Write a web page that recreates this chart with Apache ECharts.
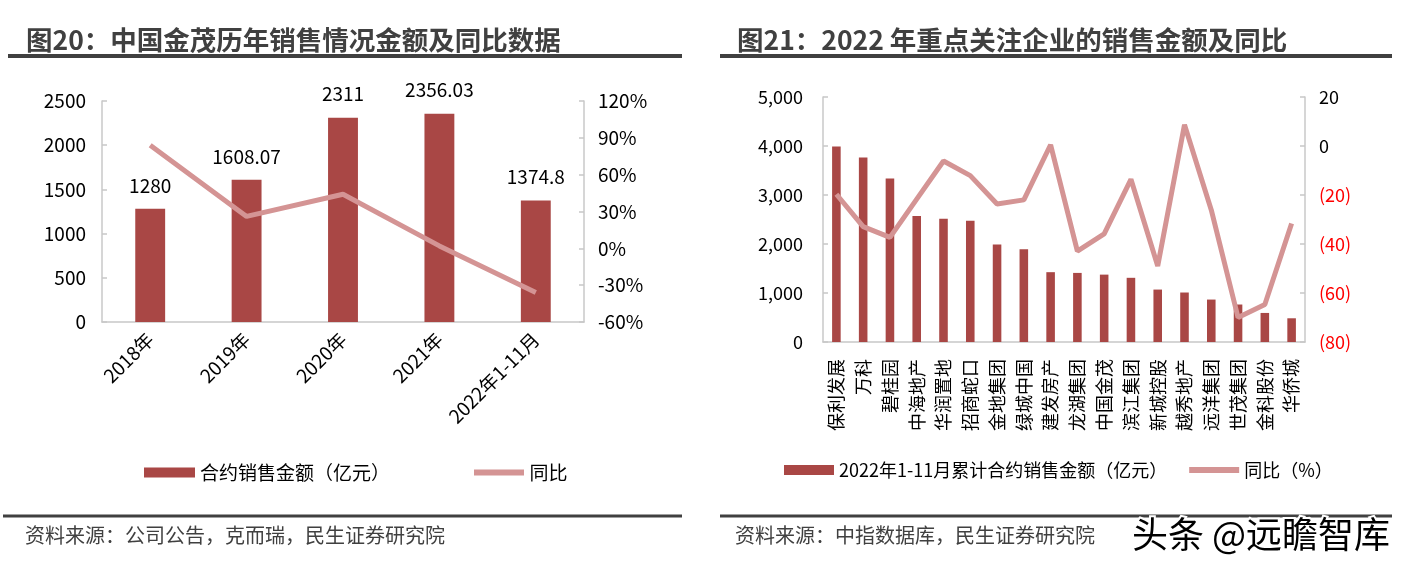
<!DOCTYPE html>
<html>
<head>
<meta charset="utf-8">
<script src="https://cdn.jsdelivr.net/npm/echarts@6/dist/echarts.min.js"></script>
<style>
html,body{margin:0;padding:0;background:#fff;}
#main{width:1409px;height:568px;}
</style>
</head>
<body>
<div id="main"></div>
<script>
// ---- Left chart data ----
const leftCategories = ['2018年', '2019年', '2020年', '2021年', '2022年1-11月'];
const leftSales = [1280, 1608.07, 2311, 2356.03, 1374.8];
const leftYoY = [84, 26, 44, 2, -36];

// ---- Right chart data ----
const rightCategories = ['保利发展', '万科', '碧桂园', '中海地产', '华润置地', '招商蛇口', '金地集团', '绿城中国', '建发房产', '龙湖集团', '中国金茂', '滨江集团', '新城控股', '越秀地产', '远洋集团', '世茂集团', '金科股份', '华侨城'];
const rightSales = [3990, 3765, 3335, 2570, 2515, 2475, 1990, 1895, 1425, 1410, 1375, 1310, 1070, 1010, 866, 765, 593, 484];
const rightYoY = [-19.7, -32.9, -37.3, -21.7, -6.1, -12.1, -23.7, -22.0, 0.5, -42.9, -35.9, -13.6, -49, 8.7, -26.1, -70, -64.7, -31.6];

const titles = ['图20：中国金茂历年销售情况金额及同比数据', '图21：2022 年重点关注企业的销售金额及同比'];
const sources = ['资料来源：公司公告，克而瑞，民生证券研究院', '资料来源：中指数据库，民生证券研究院'];
const legendNames = ['合约销售金额（亿元）', '同比', '2022年1-11月累计合约销售金额（亿元）', '同比（%）'];

const FONT = '"Noto Sans CJK SC", "Noto Sans", sans-serif';
const BAR = '#A94745';
const LINE = '#D49494';
const AXIS = '#C8C8C8';
const LINE_ICON = 'path://M0,0L0.01,0M0,10L0.01,10M0,2H50V8H0Z';

const chart = echarts.init(document.getElementById('main'), null, {renderer: 'canvas'});

const axisCommon = {
  axisLine: {show: true, lineStyle: {color: AXIS, width: 1.5}},
  axisTick: {show: true, inside: true, length: 5, lineStyle: {color: AXIS, width: 1.5}},
  splitLine: {show: false}
};

const option = {
  animation: false,
  backgroundColor: '#fff',
  textStyle: {fontFamily: FONT},
  title: [
    {text: titles[0], left: 21, top: 22, textStyle: {fontFamily: FONT, fontSize: 26.5, fontWeight: 'bold', color: '#404040'}},
    {text: titles[1], left: 732, top: 22, textStyle: {fontFamily: FONT, fontSize: 26.5, fontWeight: 'bold', color: '#404040'}}
  ],
  legend: [
    {
      data: [{name: legendNames[0], icon: 'rect'}, {name: legendNames[1], icon: LINE_ICON}],
      left: 139, top: 458, itemWidth: 51, itemHeight: 10, itemGap: 84,
      textStyle: {fontFamily: FONT, fontSize: 19, color: '#000'}
    },
    {
      data: [{name: legendNames[2], icon: 'rect'}, {name: legendNames[3], icon: LINE_ICON}],
      left: 779, top: 456, itemWidth: 50, itemHeight: 10, itemGap: 22,
      textStyle: {fontFamily: FONT, fontSize: 18, color: '#000'}
    }
  ],
  grid: [
    {left: 102, top: 101, width: 482, height: 221},
    {left: 823, top: 97, width: 482, height: 245}
  ],
  xAxis: [
    {
      type: 'category', gridIndex: 0, data: leftCategories,
      axisLine: {show: true, lineStyle: {color: AXIS, width: 1.5}},
      axisTick: {show: false},
      axisLabel: {rotate: 45, interval: 0, fontSize: 19, color: '#000', margin: 14, fontFamily: FONT}
    },
    {
      type: 'category', gridIndex: 1, data: rightCategories,
      axisLine: {show: true, lineStyle: {color: AXIS, width: 1.5}},
      axisTick: {show: false},
      axisLabel: {rotate: 90, interval: 0, fontSize: 18, color: '#000', margin: 17, fontFamily: FONT}
    }
  ],
  yAxis: [
    Object.assign({
      type: 'value', gridIndex: 0, min: 0, max: 2500, interval: 500, position: 'left',
      axisLabel: {fontSize: 19, color: '#000', margin: 16, fontFamily: FONT,
        formatter: function (v) { return String(v); }}
    }, axisCommon),
    Object.assign({
      type: 'value', gridIndex: 0, min: -60, max: 120, interval: 30, position: 'right',
      axisLabel: {fontSize: 19, color: '#000', margin: 14, formatter: '{value}%', fontFamily: FONT}
    }, axisCommon),
    Object.assign({
      type: 'value', gridIndex: 1, min: 0, max: 5000, interval: 1000, position: 'left',
      axisLabel: {fontSize: 18, color: '#000', margin: 20, fontFamily: FONT,
        formatter: function (v) { return v.toLocaleString('en-US'); }}
    }, axisCommon),
    Object.assign({
      type: 'value', gridIndex: 1, min: -80, max: 20, interval: 20, position: 'right',
      axisLabel: {fontSize: 18, color: '#000', margin: 14, fontFamily: FONT,
        formatter: function (v) { return v < 0 ? '{r|(' + (-v) + ')}' : String(v); },
        rich: {r: {color: '#FF0000', fontSize: 18, fontFamily: FONT}}}
    }, axisCommon)
  ],
  series: [
    {
      name: legendNames[0], type: 'bar', xAxisIndex: 0, yAxisIndex: 0, data: leftSales,
      barWidth: '31%', itemStyle: {color: BAR},
      label: {show: true, position: 'top', distance: 14, fontSize: 19, color: '#000', fontFamily: FONT}
    },
    {
      name: legendNames[1], type: 'line', xAxisIndex: 0, yAxisIndex: 1, data: leftYoY,
      symbol: 'none', showSymbol: false, lineStyle: {color: LINE, width: 5}, itemStyle: {color: LINE}, z: 3
    },
    {
      name: legendNames[2], type: 'bar', xAxisIndex: 1, yAxisIndex: 2, data: rightSales,
      barWidth: '32%', itemStyle: {color: BAR}
    },
    {
      name: legendNames[3], type: 'line', xAxisIndex: 1, yAxisIndex: 3, data: rightYoY,
      symbol: 'none', showSymbol: false, lineStyle: {color: LINE, width: 5}, itemStyle: {color: LINE}, z: 3
    }
  ],
  graphic: [
    {type: 'line', shape: {x1: 8, y1: 56, x2: 682, y2: 56}, style: {stroke: '#404040', lineWidth: 4}},
    {type: 'line', shape: {x1: 720, y1: 56, x2: 1392, y2: 56}, style: {stroke: '#404040', lineWidth: 4}},
    {type: 'line', shape: {x1: 3, y1: 516, x2: 682, y2: 516}, style: {stroke: '#404040', lineWidth: 3}},
    {type: 'line', shape: {x1: 720, y1: 516, x2: 1392, y2: 516}, style: {stroke: '#404040', lineWidth: 3}},
    {type: 'text', left: 25, top: 525, style: {text: sources[0], fontFamily: FONT, fontSize: 20, fill: '#404040'}},
    {type: 'text', left: 735, top: 525, style: {text: sources[1], fontFamily: FONT, fontSize: 20, fill: '#404040'}},
    {type: 'text', left: 1130, top: 514, z: 100, style: {text: '头条 @远瞻智库', fontFamily: FONT, fontSize: 36, fill: '#000', stroke: '#fff', lineWidth: 4}}
  ]
};

chart.setOption(option);
</script>
</body>
</html>
